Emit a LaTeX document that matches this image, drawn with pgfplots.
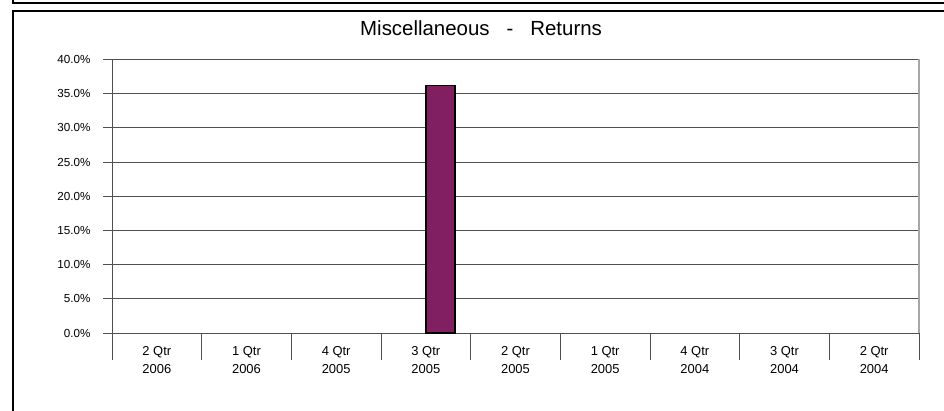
\documentclass[border=0pt]{standalone}
\usepackage{pgfplots}
\pgfplotsset{compat=1.18}
\usepackage{fontspec}
\setmainfont{Liberation Sans}
\definecolor{plum}{RGB}{128,32,96}
\definecolor{gridgray}{RGB}{80,80,80}

\begin{document}
\begin{tikzpicture}
% outer frames
\draw[line width=2bp] (13bp,411bp) -- (13bp,407.5bp) -- (960bp,407.5bp);
\draw[line width=2bp] (13bp,-10bp) -- (13bp,399.5bp) -- (960bp,399.5bp);
\node[anchor=base west, inner sep=0pt, font=\fontsize{20.5}{24}\selectfont] at (360bp,375.3bp)
  {Miscellaneous\hspace{17bp}-\hspace{17bp}Returns};
\begin{axis}[
  at={(112bp,78bp)}, anchor=south west,
  scale only axis,
  width=807bp, height=273.5bp,
  xmin=-0.5, xmax=8.5,
  ymin=0, ymax=40,
  xtick={0,...,8},
  xticklabels={{2 Qtr\\2006},{1 Qtr\\2006},{4 Qtr\\2005},{3 Qtr\\2005},{2 Qtr\\2005},{1 Qtr\\2005},{4 Qtr\\2004},{3 Qtr\\2004},{2 Qtr\\2004}},
  minor xtick={-0.5,0.5,...,8.5},
  ytick={0,5,...,40},
  yticklabels={0.0\%,5.0\%,10.0\%,15.0\%,20.0\%,25.0\%,30.0\%,35.0\%,40.0\%},
  xtick pos=bottom, ytick pos=left,
  tick align=outside,
  major tick length=9bp,
  minor tick length=27bp,
  major x tick style={draw=none},
  tick style={gridgray, line width=0.8bp},
  ymajorgrids=true,
  grid style={gridgray, line width=0.8bp},
  axis line style={gridgray, line width=0.8bp},
  xticklabel style={align=center, font=\fontsize{13}{17.7}\selectfont, yshift=-1bp},
  yticklabel style={font=\fontsize{11.7}{13}\selectfont, xshift=-9bp},
  clip=false,
]
\addplot[ybar, bar width=29bp, bar shift=14.5bp, fill=plum, draw=black, line width=1.6bp]
  coordinates {(3,36.2)};
\draw[black!35, line width=1.5bp] (rel axis cs:1,0) -- (rel axis cs:1,1);
\end{axis}
\pgfresetboundingbox
\useasboundingbox (0,0) rectangle (944bp,411bp);
\end{tikzpicture}
\end{document}
